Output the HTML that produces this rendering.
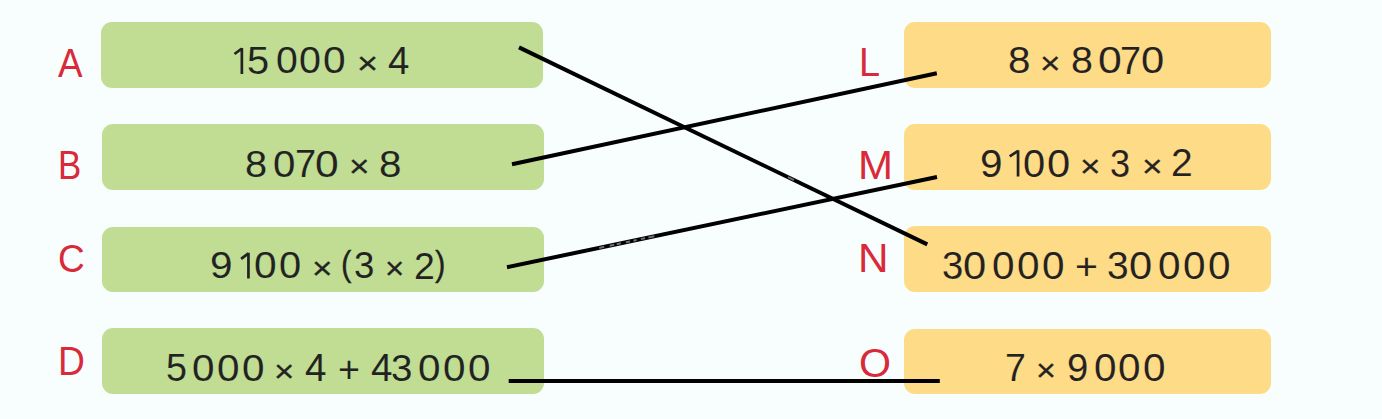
<!DOCTYPE html>
<html><head><meta charset="utf-8">
<style>
html,body{margin:0;padding:0}
body{width:1382px;height:419px;overflow:hidden;background:#f8fefd;position:relative;font-family:"Liberation Sans",sans-serif}
.bx{position:absolute;border-radius:11px}
.g{background:#c0dd93}
.y{background:#fedb86;left:903.6px;width:367px}
.lb,.t{position:absolute;font-size:37px;line-height:1;white-space:pre;transform-origin:0 0}
.lb{color:#d82a3a}
.t{color:#222222}
.tg{-webkit-text-stroke:0.1px #c0dd93}
.ty{-webkit-text-stroke:0.1px #fedb86}
.lb{-webkit-text-stroke:0px #f8fefd}
.op{-webkit-text-stroke:0.3px #222222}
svg{position:absolute;left:0;top:0}
</style></head><body>
<div class="bx g" style="left:101px;width:441.5px;top:22px;height:65.5px"></div>
<div class="bx g" style="left:102px;width:442.4px;top:124px;height:66px"></div>
<div class="bx g" style="left:102px;width:442.4px;top:226.6px;height:65.4px"></div>
<div class="bx g" style="left:101.8px;width:442.6px;top:328px;height:66px"></div>
<div class="bx y" style="top:22.3px;height:65.6px"></div>
<div class="bx y" style="top:124.2px;height:65.8px"></div>
<div class="bx y" style="top:226.4px;height:65.7px"></div>
<div class="bx y" style="top:328.6px;height:65.2px"></div>
<span class="lb" style="left:58.35px;top:42.56px;transform:scale(0.994,1.098)">A</span>
<span class="lb" style="left:58.47px;top:145.24px;transform:scale(0.942,1.102)">B</span>
<span class="lb" style="left:58.10px;top:239.01px;transform:scale(1.002,1.065)">C</span>
<span class="lb" style="left:57.69px;top:342.49px;transform:scale(1.005,1.075)">D</span>
<span class="lb" style="left:859.24px;top:42.87px;transform:scale(1.022,1.078)">L</span>
<span class="lb" style="left:858.49px;top:145.24px;transform:scale(1.135,1.102)">M</span>
<span class="lb" style="left:858.47px;top:238.57px;transform:scale(1.142,1.078)">N</span>
<span class="lb" style="left:859.35px;top:343.03px;transform:scale(1.113,1.081)">O</span>
<span class="t tg" style="left:246.59px;top:41.96px;transform:scale(1.074,1.025)">5</span>
<span class="t tg" style="left:275.61px;top:42.27px;transform:scale(1.059,1.015)">0</span>
<span class="t tg" style="left:299.40px;top:42.27px;transform:scale(1.065,1.015)">0</span>
<span class="t tg" style="left:323.35px;top:42.27px;transform:scale(1.099,1.015)">0</span>
<span class="t op" style="left:357.01px;top:47.45px;transform:scale(0.978,0.862)">×</span>
<span class="t tg" style="left:387.82px;top:41.91px;transform:scale(1.040,1.035)">4</span>
<span class="t tg" style="left:244.79px;top:145.05px;transform:scale(1.074,1.019)">8</span>
<span class="t tg" style="left:272.77px;top:145.05px;transform:scale(1.087,1.019)">0</span>
<span class="t tg" style="left:294.85px;top:144.68px;transform:scale(1.027,1.039)">7</span>
<span class="t tg" style="left:315.08px;top:145.05px;transform:scale(1.149,1.019)">0</span>
<span class="t op" style="left:348.69px;top:150.30px;transform:scale(0.948,0.862)">×</span>
<span class="t tg" style="left:379.16px;top:145.05px;transform:scale(1.091,1.019)">8</span>
<span class="t tg" style="left:210.29px;top:247.11px;transform:scale(1.094,1.008)">9</span>
<span class="t tg" style="left:253.95px;top:247.11px;transform:scale(1.099,1.008)">0</span>
<span class="t tg" style="left:278.79px;top:247.11px;transform:scale(1.076,1.008)">0</span>
<span class="t op" style="left:311.79px;top:252.15px;transform:scale(0.948,0.862)">×</span>
<span class="t op" style="left:341.39px;top:246.49px;transform:scale(0.850,0.968)">(</span>
<span class="t tg" style="left:353.52px;top:247.11px;transform:scale(0.989,1.008)">3</span>
<span class="t op" style="left:385.25px;top:252.15px;transform:scale(0.892,0.862)">×</span>
<span class="t tg" style="left:413.93px;top:247.06px;transform:scale(1.012,1.017)">2</span>
<span class="t op" style="left:435.34px;top:246.49px;transform:scale(0.850,0.968)">)</span>
<span class="t tg" style="left:166.47px;top:349.14px;transform:scale(1.017,1.029)">5</span>
<span class="t tg" style="left:192.16px;top:349.45px;transform:scale(1.093,1.019)">0</span>
<span class="t tg" style="left:216.91px;top:349.45px;transform:scale(1.093,1.019)">0</span>
<span class="t tg" style="left:241.66px;top:349.45px;transform:scale(1.093,1.019)">0</span>
<span class="t op" style="left:274.31px;top:354.70px;transform:scale(0.942,0.862)">×</span>
<span class="t tg" style="left:305.02px;top:349.08px;transform:scale(1.045,1.039)">4</span>
<span class="t tg" style="left:337.72px;top:352.32px;transform:scale(1.017,0.978)">+</span>
<span class="t tg" style="left:370.62px;top:349.08px;transform:scale(1.045,1.039)">4</span>
<span class="t tg" style="left:390.74px;top:349.45px;transform:scale(1.040,1.019)">3</span>
<span class="t tg" style="left:417.96px;top:349.45px;transform:scale(1.093,1.019)">0</span>
<span class="t tg" style="left:442.81px;top:349.45px;transform:scale(1.093,1.019)">0</span>
<span class="t tg" style="left:467.66px;top:349.45px;transform:scale(1.093,1.019)">0</span>
<span class="t ty" style="left:1007.56px;top:41.97px;transform:scale(1.091,1.015)">8</span>
<span class="t op" style="left:1039.79px;top:47.15px;transform:scale(0.948,0.862)">×</span>
<span class="t ty" style="left:1071.01px;top:41.97px;transform:scale(1.063,1.015)">8</span>
<span class="t ty" style="left:1097.67px;top:41.97px;transform:scale(1.155,1.015)">0</span>
<span class="t ty" style="left:1120.26px;top:41.61px;transform:scale(1.021,1.035)">7</span>
<span class="t ty" style="left:1141.11px;top:41.97px;transform:scale(1.127,1.015)">0</span>
<span class="t ty" style="left:980.29px;top:144.53px;transform:scale(1.094,1.023)">9</span>
<span class="t ty" style="left:1023.49px;top:144.53px;transform:scale(1.076,1.023)">0</span>
<span class="t ty" style="left:1047.31px;top:144.53px;transform:scale(1.127,1.023)">0</span>
<span class="t op" style="left:1079.89px;top:149.85px;transform:scale(0.948,0.862)">×</span>
<span class="t ty" style="left:1110.33px;top:144.53px;transform:scale(0.977,1.023)">3</span>
<span class="t op" style="left:1141.68px;top:149.85px;transform:scale(0.954,0.862)">×</span>
<span class="t ty" style="left:1170.96px;top:144.48px;transform:scale(1.053,1.033)">2</span>
<span class="t ty" style="left:941.85px;top:246.53px;transform:scale(1.034,1.023)">3</span>
<span class="t ty" style="left:962.81px;top:246.53px;transform:scale(1.127,1.023)">0</span>
<span class="t ty" style="left:992.36px;top:246.53px;transform:scale(1.093,1.023)">0</span>
<span class="t ty" style="left:1017.31px;top:246.53px;transform:scale(1.093,1.023)">0</span>
<span class="t ty" style="left:1042.26px;top:246.53px;transform:scale(1.093,1.023)">0</span>
<span class="t ty" style="left:1074.54px;top:249.47px;transform:scale(1.061,0.978)">+</span>
<span class="t ty" style="left:1107.02px;top:246.53px;transform:scale(1.051,1.023)">3</span>
<span class="t ty" style="left:1128.71px;top:246.53px;transform:scale(1.127,1.023)">0</span>
<span class="t ty" style="left:1157.76px;top:246.53px;transform:scale(1.093,1.023)">0</span>
<span class="t ty" style="left:1182.96px;top:246.53px;transform:scale(1.093,1.023)">0</span>
<span class="t ty" style="left:1208.16px;top:246.53px;transform:scale(1.093,1.023)">0</span>
<span class="t ty" style="left:1004.67px;top:347.61px;transform:scale(1.015,1.071)">7</span>
<span class="t op" style="left:1036.06px;top:353.80px;transform:scale(0.923,0.862)">×</span>
<span class="t ty" style="left:1066.79px;top:347.99px;transform:scale(1.035,1.050)">9</span>
<span class="t ty" style="left:1093.66px;top:347.99px;transform:scale(1.093,1.050)">0</span>
<span class="t ty" style="left:1118.46px;top:347.99px;transform:scale(1.093,1.050)">0</span>
<span class="t ty" style="left:1143.26px;top:347.99px;transform:scale(1.093,1.050)">0</span>
<svg width="1382" height="419" viewBox="0 0 1382 419">
<path d="M241.85 47.90V74.00 M234.50 54.00L241.85 48.50 M248.45 252.70V278.60 M241.10 258.80L248.45 253.30 M1018.05 150.20V176.50 M1009.70 156.30L1018.05 150.80" fill="none" stroke="#222222" stroke-width="2.70" stroke-linecap="butt" stroke-linejoin="miter"/>
<g stroke="#000" stroke-width="4" stroke-linecap="butt">
<line x1="519" y1="47.4" x2="927.3" y2="244.4"/>
<line x1="512" y1="164.2" x2="936.8" y2="73.3"/>
<line x1="507" y1="267.2" x2="937" y2="177"/>
<line x1="508.7" y1="381" x2="939.8" y2="381"/>
</g>
<g stroke="#707070" stroke-width="2" stroke-linecap="butt"><line x1="599.2" y1="247.9" x2="604.2" y2="246.8"/><line x1="609.6" y1="245.7" x2="614.2" y2="244.7"/><line x1="616.7" y1="244.2" x2="620.9" y2="243.3"/><line x1="625.9" y1="242.3" x2="630.1" y2="241.4"/><line x1="633.4" y1="240.7" x2="636.7" y2="240.0"/><line x1="640.9" y1="239.1" x2="645.1" y2="238.2"/><line x1="648.4" y1="237.5" x2="654.3" y2="236.3"/><line x1="788.0" y1="177.2" x2="794.0" y2="180.1"/></g>
</svg>
</body></html>
